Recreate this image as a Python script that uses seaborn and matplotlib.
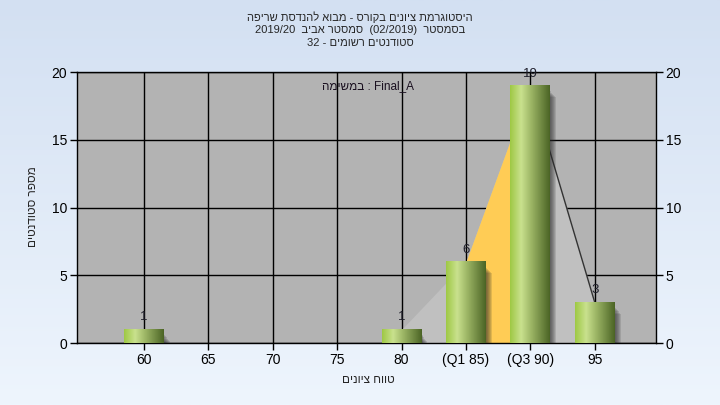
import numpy as np
import pandas as pd
import matplotlib
matplotlib.use("Agg")
import matplotlib.pyplot as plt
import seaborn as sns
from matplotlib.colors import LinearSegmentedColormap
from matplotlib.patches import Rectangle

# ---------------- data ----------------
grade_labels = ["60", "65", "70", "75", "80", "(Q1 85)", "(Q3 90)", "95"]
student_counts = [1, 0, 0, 0, 1, 6, 19, 3]
area_start, area_end = 4, 7      # frequency polygon from 80 to 95
q1_index, q3_index = 5, 6
y_ticks = [0, 5, 10, 15, 20]

title_line1 = "היסטוגרמת ציונים בקורס - מבוא להנדסת שריפה"
title_line2_parts = ["בסמסטר", "(02/2019)", "סמסטר אביב", "2019/20"]
title_line3_parts = ["סטודנטים רשומים", "-", "32"]
assignment_he = "במשימה"
assignment_name = "Final_A"
x_label = "טווח ציונים"
y_label = "מספר סטודנטים"


def heb(s):
    """visual order for a pure Hebrew run"""
    return s[::-1]


def rtl_join(parts, sep=" "):
    """parts given in logical (RTL) order -> visual left-to-right string"""
    out = []
    for p in reversed(parts):
        if any('\u0590' <= c <= '\u05ff' for c in p):
            out.append(heb(p))
        else:
            out.append(p)
    return sep.join(out)


# ---------------- style ----------------
sns.set_theme(style="white")
plt.rcParams['font.family'] = ['Liberation Sans', 'DejaVu Sans']

fig = plt.figure(figsize=(7.2, 4.05), dpi=100)

# background gradient
bg = fig.add_axes([0, 0, 1, 1], zorder=-10)
grad = np.linspace(0, 1, 256).reshape(-1, 1)
bg_cmap = LinearSegmentedColormap.from_list("bg", ["#d3e0f2", "#eef5fd"])
bg.imshow(grad, aspect="auto", cmap=bg_cmap, extent=[0, 1, 0, 1], origin="upper")
bg.set_axis_off()

ax = fig.add_axes([0.107, 0.153, 0.804, 0.669])
ax.set_facecolor("#b3b3b3")

df = pd.DataFrame({"grade": grade_labels, "count": student_counts})
sns.barplot(data=df, x="grade", y="count", order=grade_labels, width=0.62,
            color="#9cc84a", saturation=1, ax=ax, zorder=3, errorbar=None)

xs = np.arange(len(grade_labels))
cnt = np.array(student_counts, dtype=float)

# frequency polygon area
ax.fill_between(xs[area_start:area_end + 1], cnt[area_start:area_end + 1], 0,
                color="#c0c0c0", zorder=2, lw=0)
ax.fill_between(xs[q1_index:q3_index + 1], cnt[q1_index:q3_index + 1], 0,
                color="#ffcc55", zorder=2.1, lw=0)
ax.plot(xs[q3_index:area_end + 1], cnt[q3_index:area_end + 1],
        color="#333333", lw=1, zorder=2.2)

# gradient bars with soft shadows
bar_cmap = LinearSegmentedColormap.from_list(
    "bar", [(0.0, "#9ec844"), (0.28, "#c9e18e"), (0.5, "#a2bb6a"), (1.0, "#4b6425")])
hgrad = np.linspace(0, 1, 256).reshape(1, -1)
shadow_steps = [(0.015 * k, 0.08 * k) for k in range(1, 7)]
for p in list(ax.patches):
    x0, y0, w, h = p.get_x(), p.get_y(), p.get_width(), p.get_height()
    if h <= 0:
        p.set_visible(False)
        continue
    for dx, dy in shadow_steps:
        ax.add_patch(Rectangle((x0 + dx, y0 - 0.2), w, h - 0.35 - dy + 0.2,
                               facecolor="#2a2a2a", alpha=0.14, lw=0, zorder=2.6))
    ax.imshow(hgrad, extent=[x0, x0 + w, y0, y0 + h], aspect="auto",
              cmap=bar_cmap, zorder=3.5)
    p.set_facecolor("none")
    p.set_edgecolor("none")
    ax.text(x0 + w / 2, h + 0.45, f"{int(h)}", ha="center", va="bottom",
            fontsize=9.5, color="#1e1e2a", zorder=5)

ax.set_xlim(-1.04, 7.95)
ax.set_ylim(0, 20)
ax.set_aspect("auto")
ax.set_xticks(xs)
ax.set_xticklabels(grade_labels)
ax.set_yticks(y_ticks)

ax.grid(True, color="black", lw=1)
ax.set_axisbelow(True)
for s in ax.spines.values():
    s.set_color("black")
    s.set_linewidth(1)
    s.set_visible(True)

ax.tick_params(axis="both", direction="out", length=5, width=1, color="black",
               labelsize=10, labelcolor="black", pad=2)
ax.tick_params(axis="y", left=True, right=True, labelleft=True, labelright=True)
ax.tick_params(axis="x", bottom=True, pad=2)
ax.set_xlabel("")
ax.set_ylabel("")

ax.text(0.503, 0.948, heb(assignment_he) + " : " + assignment_name,
        transform=ax.transAxes, ha="center", va="center", fontsize=8.5,
        color="#1a1020", zorder=6)

fig.text(0.5, 1 - 17 / 405, heb(title_line1), ha="center", va="center", fontsize=8)
fig.text(0.5, 1 - 30 / 405, rtl_join(title_line2_parts, "  "), ha="center",
         va="center", fontsize=8)
fig.text(0.5, 1 - 43 / 405, rtl_join(title_line3_parts), ha="center", va="center",
         fontsize=8)
fig.text(368 / 720, 1 - 380 / 405, heb(x_label), ha="center", va="center", fontsize=8.5)
fig.text(33 / 720, 1 - 207 / 405, heb(y_label), ha="center", va="center",
         fontsize=8.5, rotation=90)

fig.savefig("out.png", dpi=100)
